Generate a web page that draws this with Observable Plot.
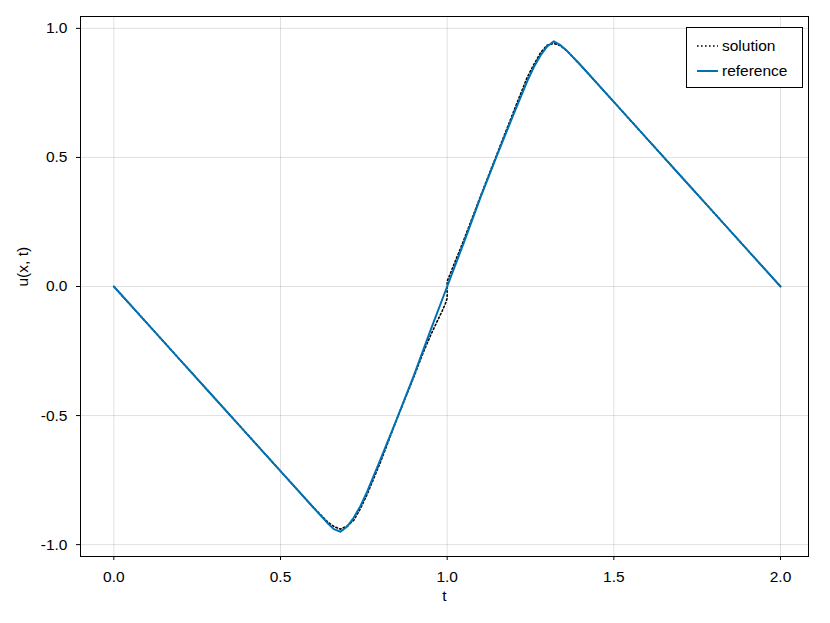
<!DOCTYPE html>
<html>
<head>
<meta charset="utf-8">
<script src="https://cdn.jsdelivr.net/npm/d3@7"></script>
<script src="https://cdn.jsdelivr.net/npm/@observablehq/plot@0.6"></script>
<style>
  html, body { margin: 0; padding: 0; background: #fff; }
  #wrap { position: relative; width: 830px; height: 623px; font-family: "Liberation Sans", Arial, Helvetica, sans-serif; }
  #legend { position: absolute; left: 686px; top: 27px; width: 117px; height: 61px; border: 1px solid #000; background: #fff; box-sizing: border-box; font-size: 15.5px; color: #000; }
  .row { position: absolute; left: 0; height: 20px; display: flex; align-items: center; }
  .row svg { margin-left: 10px; }
  .row span { margin-left: 4px; line-height: 20px; }
</style>
</head>
<body>
<div id="wrap"><div id="legend"></div></div>
<script>
// ---- data ----
const xTicks = [0.0, 0.5, 1.0, 1.5, 2.0];
const yTicks = [-1.0, -0.5, 0.0, 0.5, 1.0];
const xLabel = ["t"];
const yLabel = ["u(x, t)"];

const seriesNames = ["solution", "reference"];
const seriesColors = ["#000000", "#0072b2"];
const seriesDash = ["1.6,2.4", null];

const refT = [0, 0.1, 0.2, 0.3, 0.4, 0.5, 0.6, 0.64, 0.66, 0.68, 0.70, 0.72, 0.74, 0.76, 0.8, 0.85, 0.9, 0.95, 1.0,
              1.05, 1.1, 1.15, 1.2, 1.24, 1.26, 1.28, 1.30, 1.32, 1.34, 1.36, 1.4, 1.5, 1.6, 1.7, 1.8, 1.9, 2.0];
const refU = [0, -0.143, -0.286, -0.429, -0.572, -0.715, -0.858, -0.915, -0.94, -0.95, -0.93, -0.895, -0.85, -0.795, -0.67, -0.51, -0.345, -0.17, 0.0,
              0.17, 0.345, 0.51, 0.67, 0.795, 0.85, 0.895, 0.93, 0.95, 0.935, 0.912, 0.858, 0.715, 0.572, 0.429, 0.286, 0.143, 0];

const solT = [0, 0.1, 0.2, 0.3, 0.4, 0.5, 0.6, 0.64, 0.66, 0.68, 0.70, 0.72, 0.74, 0.76, 0.8, 0.85, 0.9, 0.93, 0.95, 0.97, 0.985, 0.995, 1.0,
              1.0, 1.05, 1.1, 1.15, 1.2, 1.24, 1.26, 1.28, 1.30, 1.32, 1.34, 1.36, 1.4, 1.5, 1.6, 1.7, 1.8, 1.9, 2.0];
const solU = [0, -0.143, -0.286, -0.429, -0.572, -0.715, -0.858, -0.91, -0.93, -0.94, -0.928, -0.905, -0.86, -0.805, -0.68, -0.51, -0.35, -0.25, -0.19, -0.135, -0.095, -0.065, -0.045,
              0.02, 0.18, 0.35, 0.515, 0.68, 0.81, 0.86, 0.905, 0.935, 0.942, 0.933, 0.912, 0.858, 0.715, 0.572, 0.429, 0.286, 0.143, 0];

const reference = refT.map((t, i) => ({t, u: refU[i]}));
const solution = solT.map((t, i) => ({t, u: solU[i]}));
const fmt = d => d.toFixed(1);
const FONT = '"Liberation Sans", Arial, Helvetica, sans-serif';

const chart = Plot.plot({
  width: 830,
  height: 623,
  marginLeft: 80,
  marginRight: 22,
  marginTop: 16,
  marginBottom: 67,
  style: { fontFamily: FONT, fontSize: "15.5px", background: "#fff", color: "#000" },
  x: { domain: [-0.1, 2.084] },
  y: { domain: [-1.046, 1.046] },
  marks: [
    Plot.gridX(xTicks, { stroke: "#000", strokeOpacity: 0.12, strokeWidth: 1 }),
    Plot.gridY(yTicks, { stroke: "#000", strokeOpacity: 0.12, strokeWidth: 1 }),
    Plot.line(solution, { x: "t", y: "u", stroke: seriesColors[0], strokeWidth: 1.6, strokeDasharray: seriesDash[0] }),
    Plot.line(reference, { x: "t", y: "u", stroke: seriesColors[1], strokeWidth: 2 }),
    Plot.frame({ stroke: "#000", strokeWidth: 1 }),
    Plot.axisX(xTicks, { tickSize: 4, tickPadding: 10, tickFormat: fmt, label: null, fontSize: 15.5 }),
    Plot.axisY(yTicks, { tickSize: 4, tickPadding: 9, tickFormat: fmt, label: null, fontSize: 15.5 }),
    Plot.text(xLabel, { frameAnchor: "bottom", dy: 44, fontSize: 15.5 }),
    Plot.text(yLabel, { frameAnchor: "left", dx: -57, rotate: -90, fontSize: 15.5 })
  ]
});
document.getElementById("wrap").insertBefore(chart, document.getElementById("legend"));

// legend
const legend = d3.select("#legend");
seriesNames.forEach((name, i) => {
  const row = legend.append("div").attr("class", "row").style("top", (8 + i * 25) + "px");
  const s = row.append("svg").attr("width", 21).attr("height", 20);
  s.append("line").attr("x1", 0).attr("x2", 21).attr("y1", 10).attr("y2", 10)
    .attr("stroke", seriesColors[i]).attr("stroke-width", i === 0 ? 1.6 : 2)
    .attr("stroke-dasharray", seriesDash[i]);
  row.append("span").text(name);
});
</script>
</body>
</html>
